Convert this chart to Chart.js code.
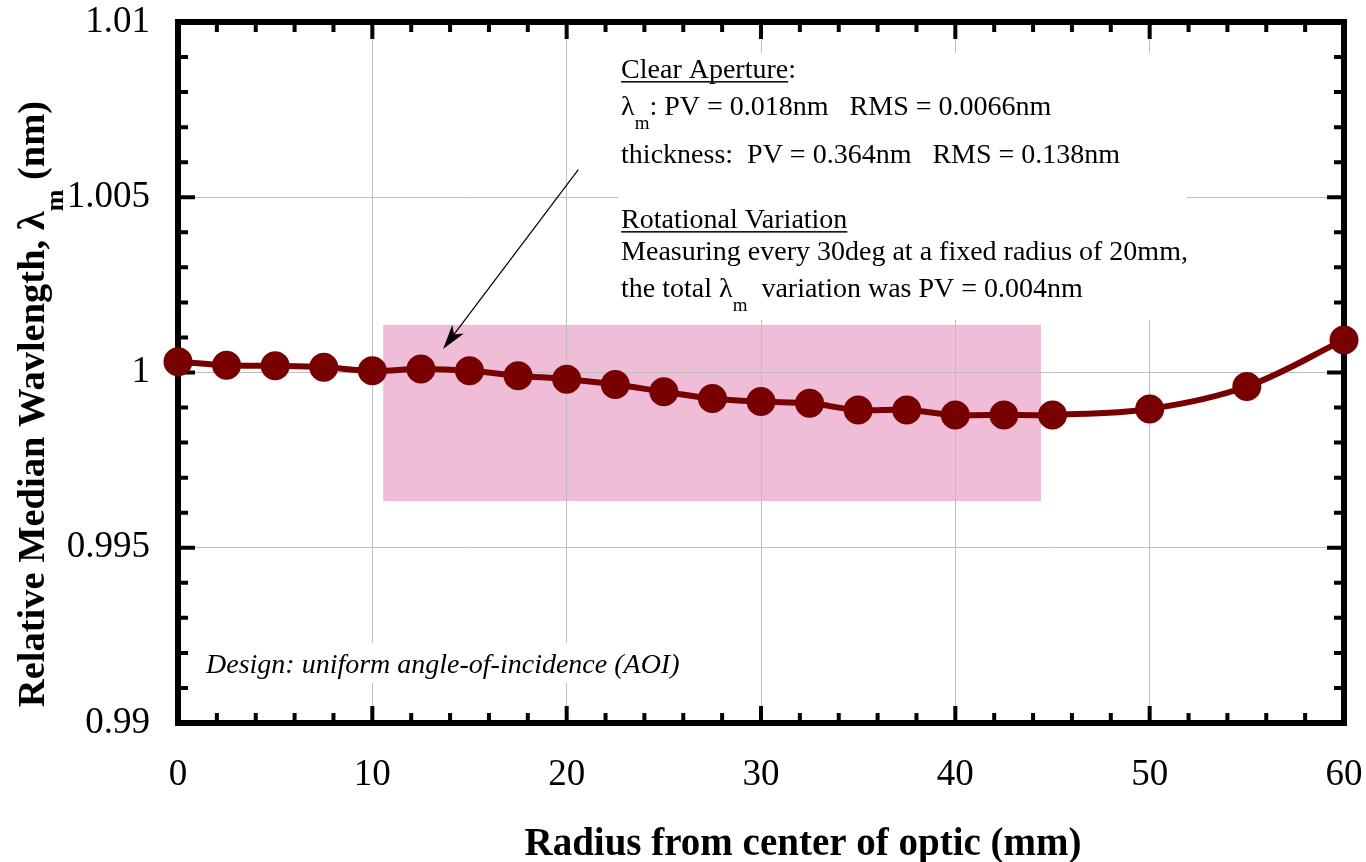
<!DOCTYPE html>
<html>
<head>
<meta charset="utf-8">
<script src="https://cdn.jsdelivr.net/npm/chart.js@4.4.1/dist/chart.umd.min.js"></script>
<style>
  html, body { margin: 0; padding: 0; background: #fff; overflow: hidden; }
  canvas { display: block; }
</style>
</head>
<body>
<canvas id="lambdaChart" width="1366" height="862"></canvas>
<script>
// measured points, radius in mm
const radius = [0, 2.5, 5, 7.5, 10, 12.5, 15, 17.5, 20, 22.5, 25, 27.5, 30, 32.5, 35, 37.5, 40, 42.5, 45, 50, 55, 60];
const medianWavelength = [1.00031, 1.00021, 1.00019, 1.00015, 1.00005, 1.0001, 1.00005, 0.99991, 0.99981, 0.99966,
  0.99945, 0.99926, 0.99917, 0.99912, 0.99893, 0.99893, 0.99879, 0.99879, 0.99879, 0.99896, 0.9996, 1.00093];

const xTickValues = [0, 10, 20, 30, 40, 50, 60];
const yTickValues = [0.99, 0.995, 1, 1.005, 1.01];
const yTickLabels = ['0.99', '0.995', '1', '1.005', '1.01'];

// clear aperture band (radius range, wavelength range)
const apertureRadius = [10.56, 44.41];
const apertureWavelength = [0.99633, 1.00136];

const serif = '"Liberation Serif", "Times New Roman", serif';
const lineColor = '#780000';

// annotation layout, in data units
const infoBox = { x0: 22.65, x1: 51.9, y0: 1.0015, y1: 1.00912 };
const infoX = 22.8;
const infoBaselines = [1.0084, 1.00736, 1.00599, 1.00412, 1.0032, 1.00215];
const infoLines = [
  [{ text: 'Clear Aperture', underline: true }, { text: ':' }],
  [{ text: 'λ' }, { text: 'm', sub: true }, { text: ': PV = 0.018nm   RMS = 0.0066nm' }],
  [{ text: 'thickness:  PV = 0.364nm   RMS = 0.138nm' }],
  [{ text: 'Rotational Variation', underline: true }],
  [{ text: 'Measuring every 30deg at a fixed radius of 20mm,' }],
  [{ text: 'the total λ' }, { text: 'm', sub: true }, { text: '  variation was PV = 0.004nm' }]
];
const designBox = { x0: 1.1, x1: 26.0, y0: 0.99114, y1: 0.99228 };
const designText = { x: 1.44, y: 0.99143, text: 'Design: uniform angle-of-incidence (AOI)' };
const arrow = { from: [20.6, 1.00579], to: [13.64, 1.00067] };

function drawRuns(ctx, runs, x, y, size, weight) {
  let cx = x;
  runs.forEach(function(r) {
    const s = r.sub ? Math.round(size * 0.68) : size;
    ctx.font = (weight || '') + ' ' + s + 'px ' + serif;
    const dy = r.sub ? size * 0.5 : 0;
    ctx.fillText(r.text, cx, y + dy);
    const w = ctx.measureText(r.text).width;
    if (r.underline) ctx.fillRect(cx, y + 3, w, 1.5);
    cx += w;
  });
  return cx - x;
}

function runsWidth(ctx, runs, size, weight) {
  let w = 0;
  runs.forEach(function(r) {
    const s = r.sub ? Math.round(size * 0.68) : size;
    ctx.font = (weight || '') + ' ' + s + 'px ' + serif;
    w += ctx.measureText(r.text).width;
  });
  return w;
}

const decorations = {
  id: 'decorations',
  beforeDraw(chart) {
    const { ctx, scales: { x, y } } = chart;
    ctx.save();
    ctx.fillStyle = '#f0bdd9';
    const px0 = x.getPixelForValue(apertureRadius[0]);
    const px1 = x.getPixelForValue(apertureRadius[1]);
    const py0 = y.getPixelForValue(apertureWavelength[1]);
    const py1 = y.getPixelForValue(apertureWavelength[0]);
    ctx.fillRect(px0, py0, px1 - px0, py1 - py0);
    ctx.restore();
  },
  beforeDatasetsDraw(chart) {
    const { ctx, chartArea: a, scales: { x, y } } = chart;
    ctx.save();
    // white boxes behind annotations
    ctx.fillStyle = '#fff';
    [infoBox, designBox].forEach(function(b) {
      const l = x.getPixelForValue(b.x0), r = x.getPixelForValue(b.x1);
      const t = y.getPixelForValue(b.y1), btm = y.getPixelForValue(b.y0);
      ctx.fillRect(l, t, r - l, btm - t);
    });

    // frame
    ctx.strokeStyle = '#000';
    ctx.lineWidth = 6;
    ctx.strokeRect(a.left, a.top, a.right - a.left, a.bottom - a.top);

    // inward ticks on all four sides
    ctx.lineWidth = 4;
    ctx.beginPath();
    for (let v = 0; v <= 60; v += 2) {
      const px = x.getPixelForValue(v);
      const len = v % 10 === 0 ? 17 : 10;
      ctx.moveTo(px, a.bottom); ctx.lineTo(px, a.bottom - len);
      ctx.moveTo(px, a.top); ctx.lineTo(px, a.top + len);
    }
    for (let i = 0; i <= 20; i++) {
      const py = y.getPixelForValue(0.99 + i * 0.001);
      const len = i % 5 === 0 ? 17 : 10;
      ctx.moveTo(a.left, py); ctx.lineTo(a.left + len, py);
      ctx.moveTo(a.right, py); ctx.lineTo(a.right - len, py);
    }
    ctx.stroke();
    ctx.restore();
  },
  afterDatasetsDraw(chart) {
    const { ctx, scales: { x, y } } = chart;
    ctx.save();
    ctx.fillStyle = '#000';
    ctx.textBaseline = 'alphabetic';
    ctx.textAlign = 'left';

    infoLines.forEach(function(runs, i) {
      drawRuns(ctx, runs, x.getPixelForValue(infoX), y.getPixelForValue(infoBaselines[i]), 28);
    });

    ctx.font = 'italic 28px ' + serif;
    ctx.fillText(designText.text, x.getPixelForValue(designText.x), y.getPixelForValue(designText.y));

    // arrow
    const x0 = x.getPixelForValue(arrow.from[0]), y0 = y.getPixelForValue(arrow.from[1]);
    const x1 = x.getPixelForValue(arrow.to[0]), y1 = y.getPixelForValue(arrow.to[1]);
    const ang = Math.atan2(y1 - y0, x1 - x0);
    const headLen = 26, headW = 0.28;
    ctx.strokeStyle = '#000';
    ctx.lineWidth = 1.2;
    ctx.beginPath();
    ctx.moveTo(x0, y0);
    ctx.lineTo(x1 - Math.cos(ang) * headLen * 0.7, y1 - Math.sin(ang) * headLen * 0.7);
    ctx.stroke();
    ctx.beginPath();
    ctx.moveTo(x1, y1);
    ctx.lineTo(x1 - headLen * Math.cos(ang - headW), y1 - headLen * Math.sin(ang - headW));
    ctx.lineTo(x1 - headLen * 0.7 * Math.cos(ang), y1 - headLen * 0.7 * Math.sin(ang));
    ctx.lineTo(x1 - headLen * Math.cos(ang + headW), y1 - headLen * Math.sin(ang + headW));
    ctx.closePath();
    ctx.fill();

    // x axis title
    ctx.font = 'bold 39px ' + serif;
    ctx.textAlign = 'center';
    ctx.fillText('Radius from center of optic (mm)', 803, 855);

    // y axis title, rotated, with subscript
    const yTitle = [{ text: 'Relative Median Wavlength, λ' }, { text: 'm', sub: true }, { text: ' (nm)' }];
    ctx.textAlign = 'left';
    const w = runsWidth(ctx, yTitle, 38.5, 'bold');
    ctx.translate(44, 404);
    ctx.rotate(-Math.PI / 2);
    drawRuns(ctx, yTitle, -w / 2, 0, 38.5, 'bold');
    ctx.restore();
  }
};

const ctx = document.getElementById('lambdaChart').getContext('2d');

new Chart(ctx, {
  type: 'scatter',
  data: {
    datasets: [
      {
        label: 'Relative median wavelength',
        data: radius.map(function(r, i) { return { x: r, y: medianWavelength[i] }; }),
        showLine: true,
        borderColor: lineColor,
        backgroundColor: lineColor,
        borderWidth: 6,
        pointRadius: 11.5,
        pointHoverRadius: 11.5,
        tension: 0.35,
        clip: false
      }
    ]
  },
  options: {
    responsive: false,
    devicePixelRatio: 1,
    animation: false,
    layout: { padding: { top: 22, right: 22, left: 0, bottom: 0 } },
    plugins: {
      legend: { display: false },
      tooltip: { enabled: false }
    },
    scales: {
      x: {
        type: 'linear',
        min: 0,
        max: 60,
        afterBuildTicks: function(scale) { scale.ticks = xTickValues.map(function(v) { return { value: v }; }); },
        afterFit: function(scale) {
          scale.height = 139;
          scale.paddingLeft = 0;
          scale.paddingRight = 0;
        },
        grid: { color: '#bdbdbd', lineWidth: 1, drawTicks: false },
        border: { display: false },
        ticks: {
          color: '#000',
          padding: 30,
          maxRotation: 0,
          font: { family: serif, size: 37 }
        }
      },
      y: {
        type: 'linear',
        min: 0.99,
        max: 1.01,
        afterBuildTicks: function(scale) { scale.ticks = yTickValues.map(function(v) { return { value: v }; }); },
        afterFit: function(scale) {
          scale.width = 178;
          scale.paddingTop = 0;
          scale.paddingBottom = 0;
        },
        grid: { color: '#bdbdbd', lineWidth: 1, drawTicks: false },
        border: { display: false },
        ticks: {
          color: '#000',
          padding: 28,
          font: { family: serif, size: 37 },
          callback: function(value) {
            const i = yTickValues.findIndex(function(v) { return Math.abs(v - value) < 1e-9; });
            return i >= 0 ? yTickLabels[i] : '';
          }
        }
      }
    }
  },
  plugins: [decorations]
});
</script>
</body>
</html>
